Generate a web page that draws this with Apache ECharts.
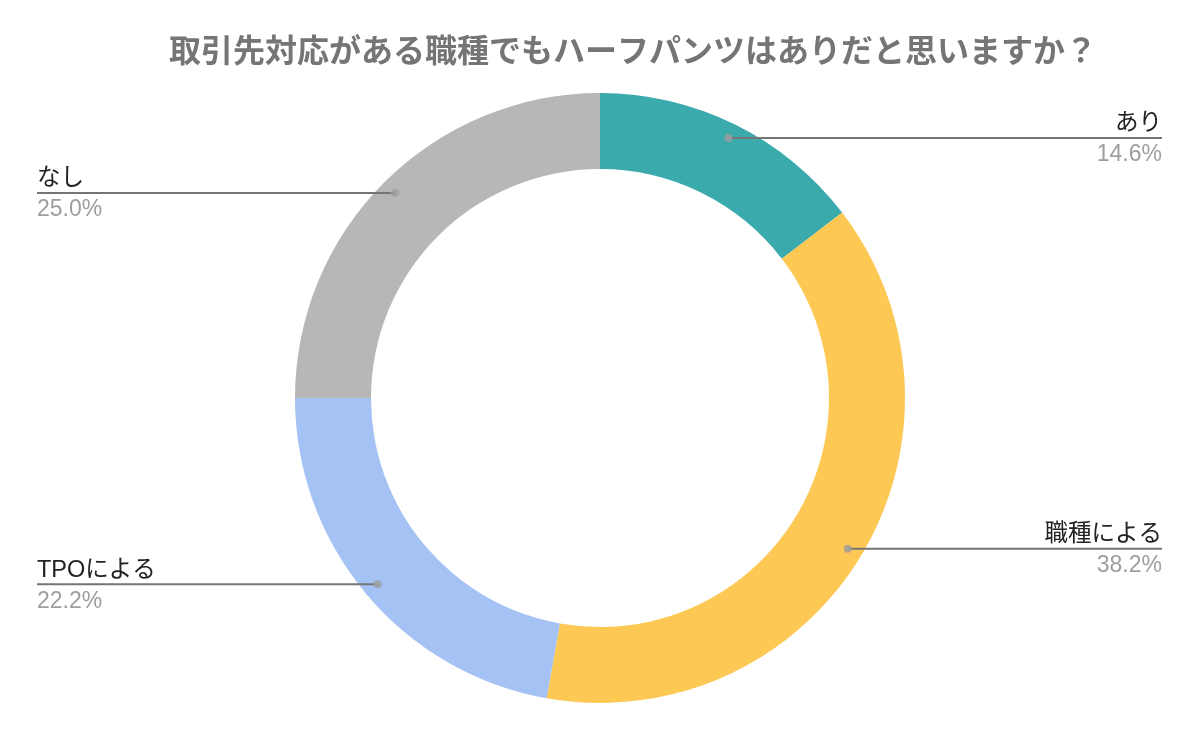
<!DOCTYPE html>
<html>
<head>
<meta charset="utf-8">
<script src="https://cdn.jsdelivr.net/npm/echarts@6/dist/echarts.min.js"></script>
<style>
html,body{margin:0;padding:0;background:#fff;}
#chart{width:1199px;height:742px;}
</style>
</head>
<body>
<div id="chart"></div>
<script>
const titleText = '取引先対応がある職種でもハーフパンツはありだと思いますか？';
const categories = ['あり', '職種による', 'TPOによる', 'なし'];
const values = [14.6, 38.2, 22.2, 25.0];
const colors = ['#3aaaad', '#fdc853', '#a4c2f4', '#b7b7b7'];

const FONT = "'Liberation Sans', Arial, 'Noto Sans CJK JP', sans-serif";
const NAME_SIZE = 23.5;
const PCT_SIZE = 23;
const CENTER = [600, 398];
const OUTER_R = 305;
const INNER_R = 229;
const DOT_R = 290;

function pctText(i) { return values[i].toFixed(1) + '%'; }

// measure label widths so the guide line reaches the far edge of each label
const mctx = document.createElement('canvas').getContext('2d');
function textW(txt, size) { mctx.font = size + 'px ' + FONT; return mctx.measureText(txt).width; }

const total = values.reduce((a, b) => a + b, 0);
const ringData = categories.map((c, i) => ({ name: c, value: values[i], itemStyle: { color: colors[i] } }));
const labelData = categories.map((c, i) => ({
  name: c,
  value: values[i],
  label: { distanceToLabelLine: -Math.max(textW(c, NAME_SIZE), textW(pctText(i), PCT_SIZE)) }
}));
// guide-line dots at the middle angle of each slice (angle axis spans the total)
const dotData = values.map((v, i) => {
  const before = values.slice(0, i).reduce((a, b) => a + b, 0);
  return [DOT_R, before + v / 2];
});

const chart = echarts.init(document.getElementById('chart'), null, { renderer: 'canvas' });
chart.setOption({
  backgroundColor: '#ffffff',
  animation: false,
  title: {
    text: titleText,
    left: 164,
    top: 29,
    textStyle: { fontFamily: "'Noto Sans CJK JP', sans-serif", fontSize: 32, fontWeight: 'bold', color: '#757575' }
  },
  polar: { center: CENTER, radius: [0, OUTER_R] },
  angleAxis: { type: 'value', min: 0, max: total, startAngle: 90, clockwise: true, show: false },
  radiusAxis: { type: 'value', min: 0, max: OUTER_R, show: false },
  series: [
    {
      type: 'pie',
      z: 1,
      silent: true,
      center: CENTER,
      radius: [INNER_R, OUTER_R],
      startAngle: 90,
      clockwise: true,
      label: { show: false },
      labelLine: { show: false },
      emphasis: { disabled: true },
      data: ringData
    },
    {
      type: 'pie',
      z: 5,
      silent: true,
      center: CENTER,
      radius: [0, DOT_R],
      startAngle: 90,
      clockwise: true,
      avoidLabelOverlap: true,
      itemStyle: { color: 'rgba(0,0,0,0)' },
      emphasis: { disabled: true },
      label: {
        show: true,
        position: 'outer',
        alignTo: 'edge',
        edgeDistance: 37,
        fontFamily: FONT,
        formatter: p => '{n|' + p.name + '}\n{p|' + pctText(p.dataIndex) + '}',
        rich: {
          n: { fontFamily: FONT, fontSize: NAME_SIZE, lineHeight: 34, color: '#222222' },
          p: { fontFamily: FONT, fontSize: PCT_SIZE, lineHeight: 28, color: '#9e9e9e' }
        }
      },
      labelLine: {
        show: true,
        length: 0,
        length2: 0,
        lineStyle: { color: '#757575', width: 2 }
      },
      data: labelData
    },
    {
      type: 'scatter',
      coordinateSystem: 'polar',
      z: 6,
      silent: true,
      symbol: 'circle',
      symbolSize: 8,
      itemStyle: { color: '#9e9e9e' },
      emphasis: { disabled: true },
      data: dotData
    }
  ]
});
</script>
</body>
</html>
